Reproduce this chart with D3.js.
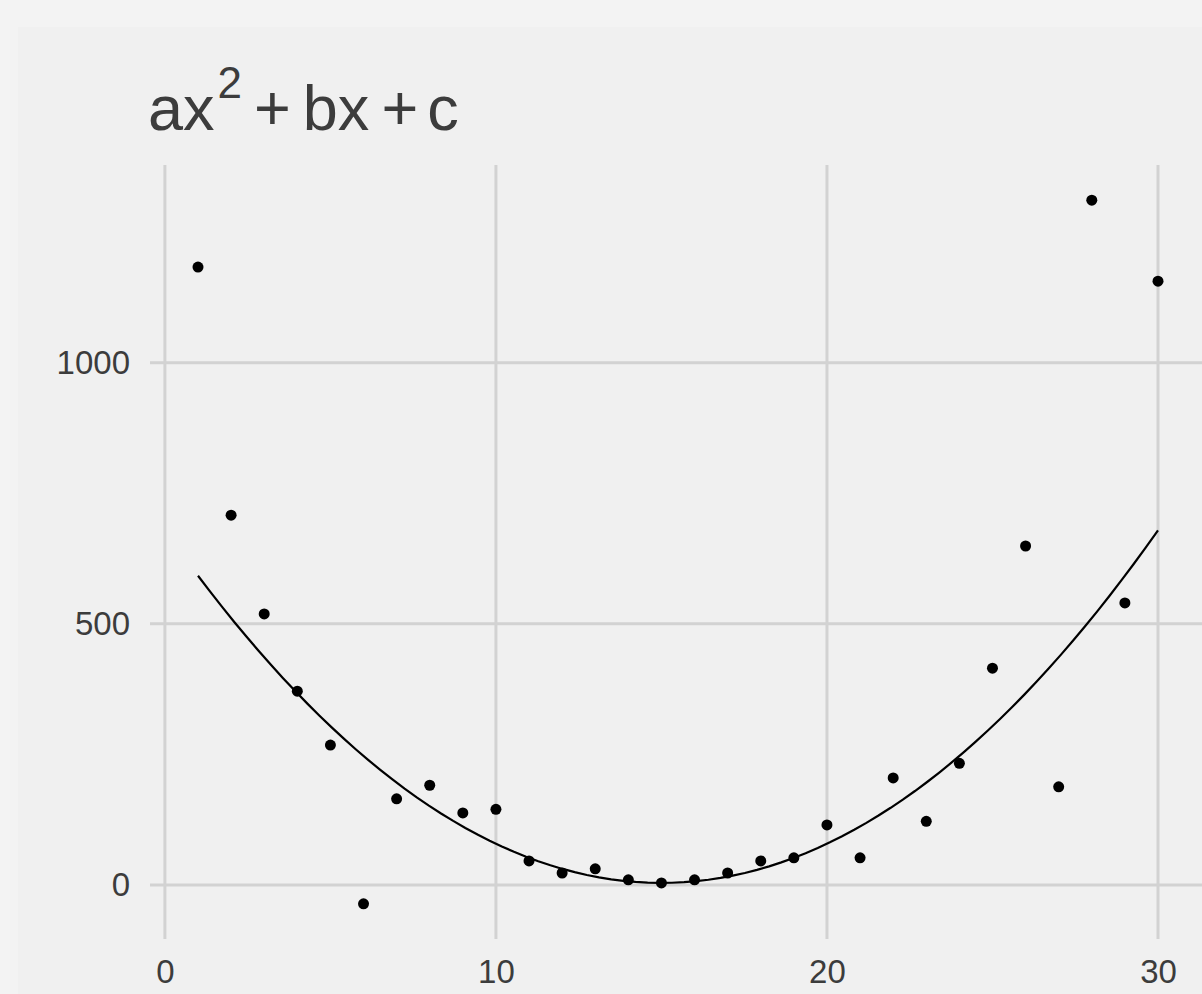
<!DOCTYPE html>
<html>
<head>
<meta charset="utf-8">
<title>ax^2 + bx + c</title>
<style>
  html, body { margin: 0; padding: 0; background: #f3f3f3; }
  svg { display: block; }
  text { font-family: "Liberation Sans", Arial, sans-serif; fill: #3c3c3c; }
</style>
</head>
<body>
<script src="https://cdn.jsdelivr.net/npm/d3@7/dist/d3.min.js"></script>
<script>
// data
var xs = [1, 2, 3, 4, 5, 6, 7, 8, 9, 10, 11, 12, 13, 14, 15,
          16, 17, 18, 19, 20, 21, 22, 23, 24, 25, 26, 27, 28, 29, 30]
var ys = [1183, 708, 519, 371, 268, -36, 165, 191, 138, 145, 46, 23, 31, 10, 4,
          10, 23, 46, 52, 115, 52, 205, 122, 233, 415, 649, 188, 1311, 540, 1156]
// fitted curve c + b*x + a*x^2, coefficients
var fitCoef = [679, -90, 3]
var xTicks = [0, 10, 20, 30]
var yTicks = [0, 500, 1000]

var width = 1202
var height = 994
var panel = {left: 150, right: 1206, top: 165, bottom: 939}

var svg = d3.select('body')
    .append('svg')
    .attr('width', width)
    .attr('height', height)

// plot background
svg.append('rect')
    .attr('x', 18)
    .attr('y', 27)
    .attr('width', width - 18)
    .attr('height', height - 27)
    .attr('fill', '#f0f0f0')

// scales with ggplot-style 5% expansion
function expand(ext) {
    var pad = (ext[1] - ext[0]) * 0.05
    return [ext[0] - pad, ext[1] + pad]
}
var x = d3.scaleLinear()
    .domain(expand(d3.extent(xs)))
    .range([panel.left, panel.right])
var y = d3.scaleLinear()
    .domain(expand(d3.extent(ys)))
    .range([panel.bottom, panel.top])

// grid
var grid = svg.append('g')
    .attr('stroke', '#d2d2d2')
    .attr('stroke-width', 3)
grid.selectAll('.vg')
    .data(xTicks)
    .enter()
    .append('line')
    .attr('x1', function(d){ return x(d) })
    .attr('x2', function(d){ return x(d) })
    .attr('y1', panel.top)
    .attr('y2', panel.bottom)
grid.selectAll('.hg')
    .data(yTicks)
    .enter()
    .append('line')
    .attr('x1', panel.left)
    .attr('x2', panel.right)
    .attr('y1', function(d){ return y(d) })
    .attr('y2', function(d){ return y(d) })

// axes (labels only)
var xAxis = svg.append('g')
    .attr('transform', 'translate(0,' + panel.bottom + ')')
    .call(d3.axisBottom(x).tickValues(xTicks).tickSize(0).tickPadding(44))
var yAxis = svg.append('g')
    .attr('transform', 'translate(' + panel.left + ',0)')
    .call(d3.axisLeft(y).tickValues(yTicks).tickSize(0).tickPadding(20).tickFormat(d3.format('d')))
svg.selectAll('.domain').remove()
svg.selectAll('.tick text')
    .attr('font-size', 33)
    .attr('font-family', '"Liberation Sans", Arial, sans-serif')
    .attr('fill', '#3c3c3c')
xAxis.selectAll('.tick text').attr('dy', 0)

// fitted quadratic, sampled at 80 points like geom_smooth
var lo = d3.min(xs), hi = d3.max(xs)
var fitX = d3.range(80).map(function(i){ return lo + (hi - lo) * i / 79 })

svg.append('path')
    .datum(fitX)
    .attr('fill', 'none')
    .attr('stroke', '#000')
    .attr('stroke-width', 2.2)
    .attr('d', d3.line()
        .x(function(d){ return x(d) })
        .y(function(d){ return y(fitCoef[0] + fitCoef[1]*d + fitCoef[2]*d*d) }))

// points
svg.selectAll('circle')
    .data(xs)
    .enter()
    .append('circle')
    .attr('cx', function(d){ return x(d) })
    .attr('cy', function(d, i){ return y(ys[i]) })
    .attr('r', 5.5)
    .attr('fill', '#000')

// title: ax^2 + bx + c
var title = svg.append('text')
    .attr('x', 148)
    .attr('y', 130)
    .attr('font-size', 63)
title.append('tspan').text('ax')
title.append('tspan').attr('font-size', 44).attr('dy', -32).attr('dx', 3).text('2')
title.append('tspan').attr('dy', 32).attr('dx', 12).text('+')
title.append('tspan').attr('dx', 12).text('bx')
title.append('tspan').attr('dx', 12).text('+')
title.append('tspan').attr('dx', 9).text('c')
</script>
</body>
</html>
